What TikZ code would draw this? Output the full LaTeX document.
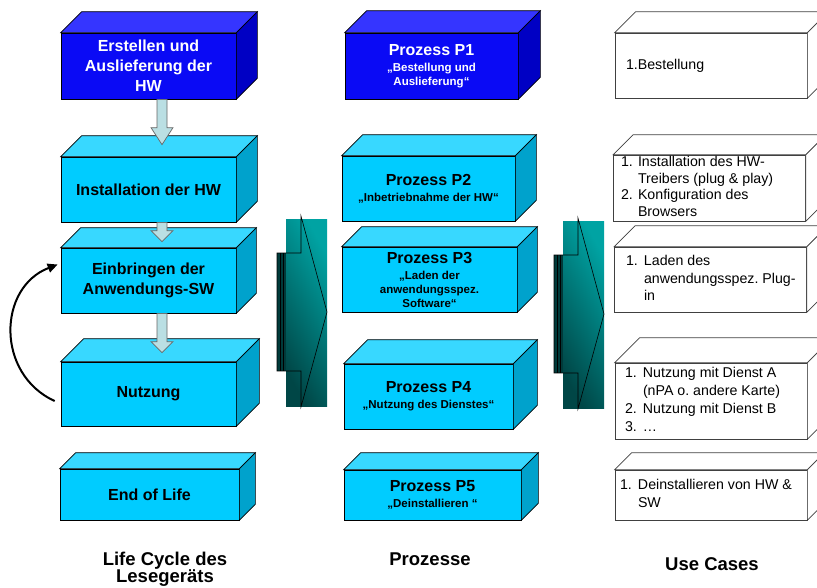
\documentclass[tikz,border=0pt]{standalone}
\usepackage{fontspec}
\setmainfont{Liberation Sans}
\usetikzlibrary{calc,arrows.meta}
\frenchspacing

\definecolor{bluefront}{HTML}{0A0AF5}
\definecolor{bluetop}{HTML}{3535FF}
\definecolor{blueside}{HTML}{0000C4}
\definecolor{cyanfront}{HTML}{00CCFF}
\definecolor{cyantop}{HTML}{38D8FF}
\definecolor{cyanside}{HTML}{00A2CC}
\definecolor{arrowfill}{HTML}{BADFE3}
\definecolor{tealdark}{HTML}{004646}
\definecolor{teallight}{HTML}{00A3A3}
\definecolor{stripdark}{HTML}{003A3A}

\newcommand{\prozsub}[1]{\par\vspace{2pt}{\fontsize{11.5}{14}\selectfont #1\par}}

\begin{document}
\begin{tikzpicture}[
    x=1pt, y=-1pt,
    quader/.style={draw, line width=0.7pt, inner sep=0pt, align=flush center, minimum width=175pt, text width=165pt},
    lcbox/.style={quader, fill=cyanfront, font=\bfseries\fontsize{16}{20}\selectfont},
    topbox/.style={lcbox, fill=bluefront, text=white},
    ucbox/.style={draw=black!75, line width=0.7pt, fill=white, inner sep=0pt, align=flush left, minimum width=192pt, font=\fontsize{14.2}{17.7}\selectfont},
    harrow/.style={draw=black!60, line width=0.7pt, fill=arrowfill},
    caption/.style={align=center, font=\bfseries\fontsize{18.5}{17}\selectfont}
]
\useasboundingbox (0,0) rectangle (817,587);
\clip (0,0) rectangle (817,587);

% Life Cycle
\node[topbox, minimum height=66pt] (lc1) at (148.5,66) {Erstellen und\\Auslieferung der\\HW};
\node[lcbox, minimum height=65pt] (lc2) at (148.5,189.5) {Installation der HW};
\node[lcbox, minimum height=65pt] (lc3) at (148.5,280.5) {Einbringen der\\Anwendungs-SW};
\node[lcbox, minimum height=64pt] (lc4) at (148.5,394) {Nutzung};
\node[lcbox, minimum width=179pt, minimum height=51pt] (lc5) at (149.5,494.5) {End of Life};

% Prozesse
\node[topbox, minimum width=173pt, minimum height=66pt] (p1) at (431.5,66) {Prozess P1\prozsub{„Bestellung und\\Auslieferung“}};
\node[lcbox, minimum width=173pt, minimum height=65pt] (p2) at (428.5,188.5) {Prozess P2\prozsub{„Inbetriebnahme der HW“}};
\node[lcbox, minimum height=65pt] (p3) at (429.5,279.5) {Prozess P3\prozsub{„Laden der\\anwendungsspez.\\Software“}};
\node[lcbox, minimum width=169pt, minimum height=65pt] (p4) at (428.5,396.5) {Prozess P4\prozsub{„Nutzung des Dienstes“}};
\node[lcbox, minimum width=177pt, minimum height=50pt] (p5) at (432.5,495) {Prozess P5\prozsub{„Deinstallieren “}};

% Use Cases
\node[ucbox, minimum height=65pt, text width=170pt] (u1) at (711,65.5) {1.Bestellung};
\node[ucbox, minimum height=66pt, text width=177pt, font=\fontsize{14.2}{16.5}\selectfont] (u2) at (709.5,188)
    {\begin{tabular}{@{}p{17pt}@{}l@{}}1. & Installation des HW-\\ & Treibers (plug \& play)\\ 2. & Konfiguration des\\ & Browsers\end{tabular}};
\node[ucbox, minimum height=65pt, text width=169pt] (u3) at (710.5,279.5)
    {\begin{tabular}{@{}p{18pt}@{}l@{}}1. & Laden des\\ & anwendungsspez. Plug-\\ & in\end{tabular}};
\node[ucbox, minimum height=76pt, text width=172pt] (u4) at (711,401)
    {\begin{tabular}{@{}p{18pt}@{}l@{}}1. & Nutzung mit Dienst A\\ & (nPA o. andere Karte)\\ 2. & Nutzung mit Dienst B\\ 3. & …\end{tabular}};
\node[ucbox, minimum height=50pt, text width=182pt] (u5) at (711,495)
    {\begin{tabular}{@{}p{18pt}@{}l@{}}1. & Deinstallieren von HW \&\\ & SW\end{tabular}};

% Quader: Deckel und Seite
\foreach \n/\d/\t/\s in {lc1/21/bluetop/blueside, lc2/21/cyantop/cyanside, lc3/20/cyantop/cyanside,
    lc4/23/cyantop/cyanside, lc5/16/cyantop/cyanside, p1/22/bluetop/blueside, p2/21/cyantop/cyanside,
    p3/20/cyantop/cyanside, p4/24/cyantop/cyanside, p5/17/cyantop/cyanside}
{
    \draw[line width=0.7pt, fill=\t] (\n.north west) -- ++(\d,-\d) -- ([shift={(\d,-\d)}]\n.north east) -- (\n.north east) -- cycle;
    \draw[line width=0.7pt, fill=\s] (\n.north east) -- ++(\d,-\d) -- ([shift={(\d,-\d)}]\n.south east) -- (\n.south east) -- cycle;
}
\foreach \n/\d in {u1/21, u2/20, u3/21, u4/25, u5/17}
{
    \draw[line width=0.7pt, draw=black!75, fill=white] (\n.north west) -- ++(\d,-\d) -- ([shift={(\d,-\d)}]\n.north east) -- (\n.north east) -- cycle;
    \draw[line width=0.7pt, draw=black!75, fill=white] (\n.north east) -- ++(\d,-\d) -- ([shift={(\d,-\d)}]\n.south east) -- (\n.south east) -- cycle;
}

% Pfeile zwischen den Phasen
\foreach \a/\b/\t/\h in {lc1/lc2/12pt/17, lc2/lc3/6pt/11, lc3/lc4/9pt/11}
{
    \path ([xshift=13.5pt]\a.south) coordinate (s) ([xshift=13.5pt, yshift=\t]\b.north) coordinate (e);
    \draw[harrow] ($(s)+(-5,0)$) -- ($(e)+(-5,-\h)$) -- ($(e)+(-11,-\h)$) -- (e)
        -- ($(e)+(11,-\h)$) -- ($(e)+(5,-\h)$) -- ($(s)+(5,0)$) -- cycle;
}

% Rueckkopplung Nutzung -> Einbringen
\draw[line width=2pt, -{Triangle[length=10pt, width=9pt]}] ([xshift=-6pt, yshift=-7pt]lc4.west)
    .. controls +(-59,-27) and +(-60,23) .. ([xshift=-3pt, yshift=16pt]lc3.west);

% grosse Pfeile
\foreach \dx/\dy in {0/0, 277/2}
{
    \begin{scope}[shift={(\dx,\dy)}]
        \shade[left color=tealdark, right color=teallight, shading angle=120] (286,219) rectangle (327,406);
        \fill[stripdark] (277,253) rectangle (286,371);
        \draw[line width=0.6pt] (280,253) -- (280,371) (283,253) -- (283,371);
        \draw[line width=0.6pt] (301,216) -- (301,253) -- (277,253) -- (277,371) -- (301,371) -- (301,407) -- (327,312) -- cycle;
    \end{scope}
}

% Beschriftungen
\node[caption] (capLC) at (165,569) {Life Cycle des\\Lesegeräts};
\node[caption] (capP) at (430,559) {Prozesse};
\node[caption] (capUC) at (712,564) {Use Cases};

\end{tikzpicture}
\end{document}
